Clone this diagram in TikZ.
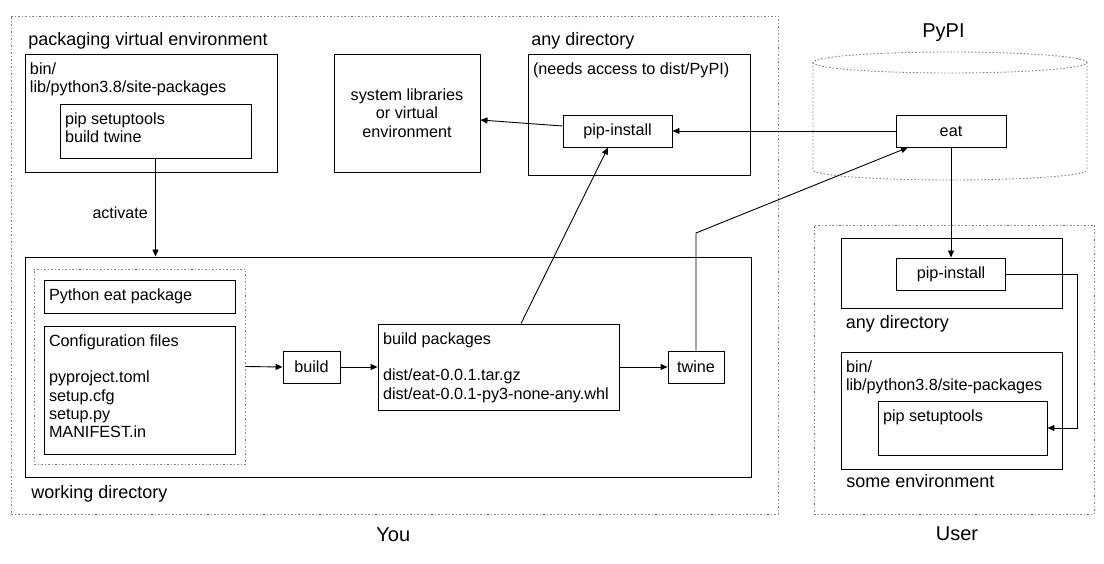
\documentclass[tikz,border=0pt]{standalone}
\usepackage{fontspec}
\setmainfont{Liberation Sans}
\usetikzlibrary{arrows.meta}

\begin{document}
\begin{tikzpicture}[x=1pt,y=-1pt,line width=0.9pt,
                >={Triangle[length=7pt,width=6pt]},
                dim/.style 2 args={minimum width=#1pt,minimum height=#2pt},
                box/.style={draw,inner sep=0pt,font=\fontsize{16.2}{18.3}\selectfont},
                group/.style={draw=gray,dash pattern=on 1.5pt off 2pt,inner sep=0pt},
                inbox/.style={inner sep=0pt,align=left,anchor=north west,shift={(5,8.5)},
                              font=\fontsize{16.2}{18.3}\selectfont},
                tag/.style={inner sep=0pt,anchor=base west,font=\fontsize{18}{21}\selectfont},
                title/.style={inner sep=0pt,anchor=base,font=\fontsize{20}{24}\selectfont}]

            \useasboundingbox (0,0) rectangle (1104,564);

            % outer groups
            \node[group, dim={767}{498}] (you) at (394.5,265) {};
            \node[group, dim={280}{289}] (user) at (954,369.5) {};
            \draw[group] (950,62.5) ellipse [x radius=137pt, y radius=10.5pt];
            \draw[group] (813,62.5) -- (813,170) arc [start angle=180, end angle=360, x radius=137pt, y radius=10pt] -- (1087,62.5);

            \node[title] at (393.3,541.7) {You};
            \node[title] at (957,540) {User};
            \node[title] at (943.5,37.5) {PyPI};

            % packaging environment
            \node[box, dim={252}{118}] (venv) at (151,113) {};
            \node[inbox] at (venv.north west) {bin/\\lib/python3.8/site-packages};
            \node[box, dim={191}{54}] (venvtools) at (155.5,131) {};
            \node[inbox] at (venvtools.north west) {pip setuptools\\build twine};
            \node[tag] at (28,46) {packaging virtual environment};

            \node[box, dim={146}{118}, align=center] (syslib) at (407,113) {system libraries\\or virtual\\environment};

            \node[box, dim={222}{121}] (anydir) at (639,114.5) {};
            \node[inbox] at (anydir.north west) {(needs access to dist/PyPI)};
            \node[tag] at (531,46) {any directory};
            \node[box, dim={109}{32}] (pipinst) at (617.5,131) {pip-install};

            \node[box, dim={110}{32}] (eat) at (951,131) {eat};

            % working directory
            \node[box, dim={726}{220}] (workdir) at (388,367) {};
            \node[tag] at (31,498) {working directory};
            \node[group, dim={211}{195}] (src) at (139.5,366.5) {};
            \node[box, dim={191}{33}] (pkg) at (139.5,296.5) {};
            \node[inbox] at (pkg.north west) {Python eat package};
            \node[box, dim={191}{128}] (conf) at (139.5,390) {};
            \node[inbox] at (conf.north west) {Configuration files\\[18.3pt]pyproject.toml\\setup.cfg\\setup.py\\MANIFEST.in};
            \node[box, dim={57}{32}] (build) at (311.5,367) {build};
            \node[box, dim={241}{86}] (dist) at (498.5,367) {};
            \node[inbox] at (dist.north west) {build packages\\[18.3pt]dist/eat-0.0.1.tar.gz\\dist/eat-0.0.1-py3-none-any.whl};
            \node[box, dim={56}{32}] (twine) at (696,367) {twine};

            % user side
            \node[box, dim={221}{70}] (uanydir) at (951.5,273) {};
            \node[tag] at (845.5,329) {any directory};
            \node[box, dim={109}{32}] (upipinst) at (951,274) {pip-install};
            \node[box, dim={221}{117}] (uenv) at (951.5,410.5) {};
            \node[inbox] at (uenv.north west) {bin/\\lib/python3.8/site-packages};
            \node[box, dim={169}{54}] (utools) at (962.5,428) {};
            \node[inbox] at (utools.north west) {pip setuptools};
            \node[tag] at (846,487.5) {some environment};

            \path[->]
            (venvtools.south) edge node[pos=0.55, left, xshift=-4pt, font=\fontsize{16}{18}\selectfont] {activate} (venvtools.south |- workdir.north)
            ([yshift=5pt]pipinst.west) edge ([yshift=-7pt]syslib.east)
            (eat.west) edge (pipinst.east)
            ([xshift=22.5pt]dist.north) edge ([xshift=-9.5pt]pipinst.south)
            (eat.south) edge (upipinst.north)
            (src.east) edge (build.west)
            (build.east) edge (dist.west)
            (dist.east) edge (twine.west);

            \coordinate (upload) at (696,233);
            \draw[->] (twine.north) -- (upload) -- ([xshift=-43pt]eat.south);
            \draw[->] (upipinst.east) -- ++(71,0) |- (utools.east);

        \end{tikzpicture}
\end{document}
